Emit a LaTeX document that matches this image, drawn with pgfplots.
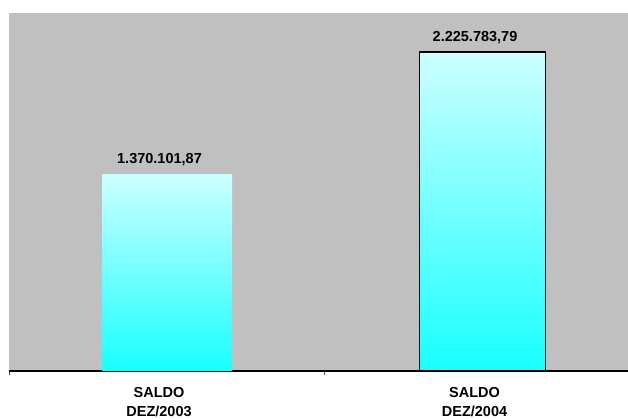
\documentclass[border=0pt]{standalone}
\usepackage{pgfplots}
\pgfplotsset{compat=1.18}
\usepackage{fontspec}
\setmainfont{Liberation Sans}
\definecolor{bggray}{RGB}{192,192,192}
\definecolor{topcyan}{RGB}{204,255,255}
\definecolor{botcyan}{RGB}{24,255,255}
\begin{document}
\begin{tikzpicture}[x=1pt,y=1pt]
\begin{axis}[
  at={(9pt,48pt)}, anchor=south west,
  scale only axis, width=619pt, height=358pt,
  xmin=-0.5008, xmax=1.461, ymin=0, ymax=2500000,
  axis x line=bottom, axis y line=none,
  axis line style={-, black, line width=1.2pt},
  xtick={-0.5,0.5}, xticklabels={},
  tick align=outside, major tick length=4pt,
  tick style={black!70, line width=0.8pt},
  extra x ticks={0,1},
  extra x tick labels={SALDO\\DEZ/2003, SALDO\\DEZ/2004},
  extra x tick style={major tick length=0pt, tick style={draw=none},
    tick label style={font=\bfseries\fontsize{14.5}{19}\selectfont, align=center, yshift=-13pt, xshift=-8pt}},
  axis background/.style={fill=bggray},
  ytick=\empty,
  clip=false,
  nodes near coords,
  point meta=explicit symbolic,
  nodes near coords style={text=black, font=\bfseries\fontsize{14.5}{18}\selectfont, anchor=base, yshift=11pt, xshift=-7.5pt},
]
\addplot[ybar, bar width=130pt, bar shift=0pt, draw=none, top color=topcyan, bottom color=botcyan]
  coordinates {(0,1370101.87) [1.370.101,87]};
\addplot[ybar, bar width=126pt, bar shift=0pt, draw=black, line width=1.6pt, top color=topcyan, bottom color=botcyan]
  coordinates {(1,2225783.79) [2.225.783,79]};
\end{axis}
\pgfresetboundingbox
\path (0,0) rectangle (628,419);
\end{tikzpicture}
\end{document}
